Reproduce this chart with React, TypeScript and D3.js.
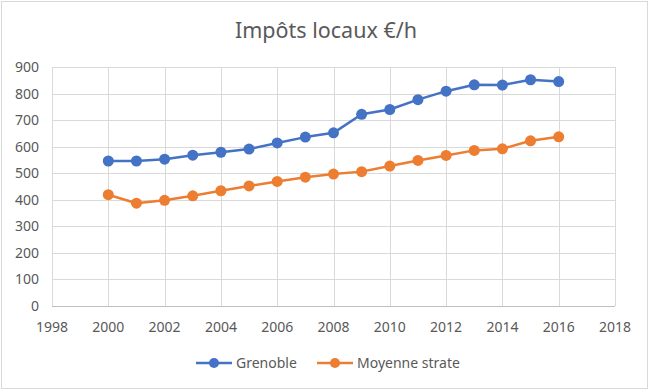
import React from 'react'
import * as d3 from 'd3'

const years = [2000, 2001, 2002, 2003, 2004, 2005, 2006, 2007, 2008, 2009, 2010, 2011, 2012, 2013, 2014, 2015, 2016]
const grenoble = [546, 546, 553, 568, 579, 591, 614, 636, 652, 722, 740, 777, 809, 833, 832, 852, 845]
const moyenne = [419, 387, 398, 415, 434, 452, 469, 485, 497, 506, 527, 548, 567, 586, 592, 622, 637]
const xTicks = [1998, 2000, 2002, 2004, 2006, 2008, 2010, 2012, 2014, 2016, 2018]
const yTicks = [0, 100, 200, 300, 400, 500, 600, 700, 800, 900]

const series = [
  { name: 'Grenoble', values: grenoble, color: '#4472C4' },
  { name: 'Moyenne strate', values: moyenne, color: '#ED7D31' },
]

const W = 653
const H = 391
const font = '"Noto Sans", sans-serif'

export default function App() {
  const x = d3.scaleLinear().domain([1998, 2018]).range([52, 615])
  const y = d3.scaleLinear().domain([0, 900]).range([306, 67])

  const line = (vals: number[]) =>
    d3.line<number>()
      .x((_, i) => x(years[i]))
      .y(d => y(d))(vals) || ''

  // legend entry positions
  const legend = [
    { x0: 196, tx: 236 },
    { x0: 317, tx: 357 },
  ]

  return (
    <div style={{ position: 'absolute', left: 0, top: 0 }}>
      <svg width={W} height={H} style={{ display: 'block' }}>
        <rect x={0} y={0} width={W} height={H} fill="#fff" />
        <rect x={1.5} y={1.5} width={646} height={387} fill="none" stroke="#d9d9d9" />
        <text x={326} y={38} textAnchor="middle" fontFamily={font} fontSize={21.5} fill="#595959">
          Impôts locaux €/h
        </text>
        {yTicks.map(t => (
          <g key={'y' + t}>
            {t > 0 && <line x1={52} x2={615} y1={Math.round(y(t)) + 0.5} y2={Math.round(y(t)) + 0.5} stroke="#d9d9d9" />}
            <text x={39} y={y(t) + 5} textAnchor="end" fontFamily={font} fontSize={14} fill="#595959">{t}</text>
          </g>
        ))}
        {xTicks.map(t => (
          <g key={'x' + t}>
            <line x1={Math.round(x(t)) + 0.5} x2={Math.round(x(t)) + 0.5} y1={67} y2={306} stroke="#d9d9d9" />
            <text x={x(t)} y={332} textAnchor="middle" fontFamily={font} fontSize={14} fill="#595959">{t}</text>
          </g>
        ))}
        <line x1={52} x2={615} y1={306.5} y2={306.5} stroke="#bfbfbf" />
        {series.map(s => (
          <g key={s.name}>
            <path d={line(s.values)} fill="none" stroke={s.color} strokeWidth={2.5} strokeLinejoin="round" />
            {s.values.map((v, i) => (
              <circle key={i} cx={x(years[i])} cy={y(v)} r={5.5} fill={s.color} />
            ))}
          </g>
        ))}
        {series.map((s, i) => (
          <g key={'l' + s.name}>
            <line x1={legend[i].x0} x2={legend[i].x0 + 36} y1={363} y2={363} stroke={s.color} strokeWidth={2.5} />
            <circle cx={legend[i].x0 + 18} cy={363} r={5} fill={s.color} />
            <text x={legend[i].tx} y={367.5} fontFamily={font} fontSize={14} fill="#595959">{s.name}</text>
          </g>
        ))}
      </svg>
    </div>
  )
}
